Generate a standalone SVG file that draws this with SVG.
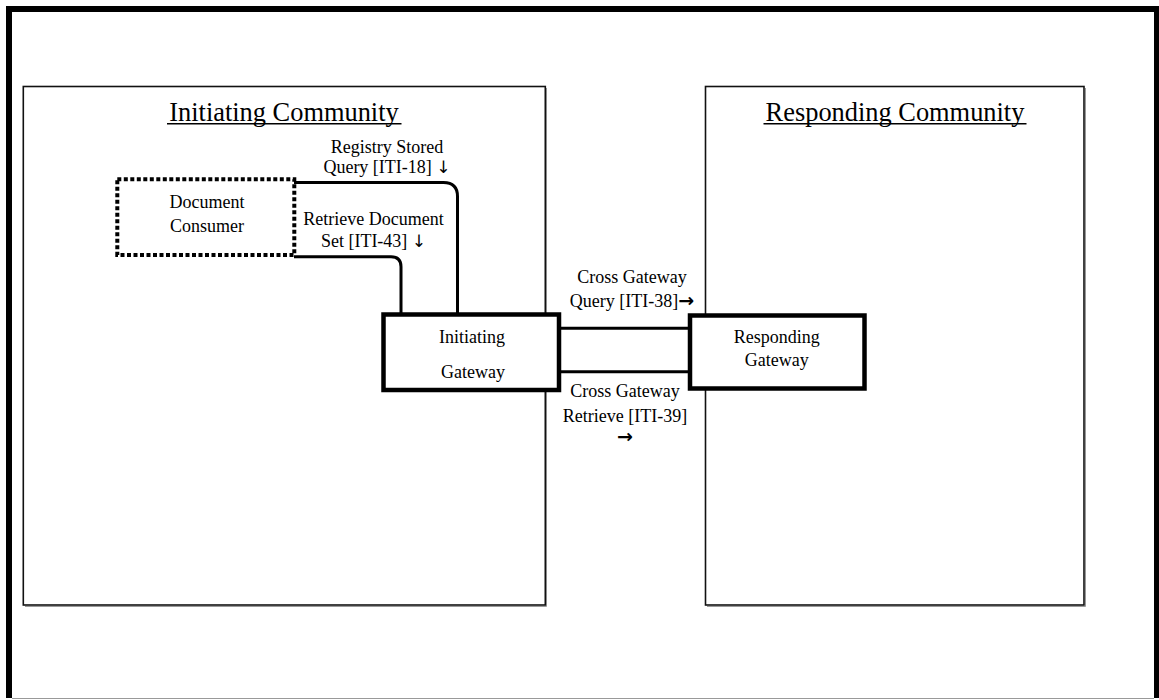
<svg xmlns="http://www.w3.org/2000/svg" width="1159" height="700" viewBox="0 0 1159 700">
<style>
  text { font-family: "Liberation Serif", "Times New Roman", serif; fill: #000; }
  .title { font-size: 26.4px; text-anchor: middle; }
  .uline { stroke: #000; stroke-width: 1.5; }
  .lbl { font-size: 18px; text-anchor: middle; }
  .arr { font-family: "DejaVu Sans", sans-serif; font-size: 19px; font-weight: bold; }
  .darr { font-family: "DejaVu Sans", sans-serif; font-size: 17px; }
  .community { fill: none; stroke: #111; stroke-width: 1.6; }
  .shadow { fill: none; stroke: #999; stroke-width: 1; }
  .gw { fill: #fff; stroke: #000; stroke-width: 4.5; }
  .conn { fill: none; stroke: #000; stroke-width: 3; }
</style>
<rect x="0" y="0" width="1159" height="700" fill="#fff"/>
<g id="frame">
  <path d="M9,698 L9,9 L1157,9 L1157,698" fill="none" stroke="#000" stroke-width="6"/>
  <line x1="12" y1="698.5" x2="1154" y2="698.5" stroke="#999" stroke-width="1.2"/>
</g>
<g id="initiating-community">
  <path class="shadow" d="M25,606.5 L546.5,606.5 L546.5,88" />
  <rect class="community" x="23.3" y="86.5" width="522" height="518.5"/>
  <text class="title" x="284" y="121">Initiating Community</text>
  <line class="uline" x1="167" y1="123.8" x2="401.5" y2="123.8"/>
</g>
<g id="responding-community">
  <path class="shadow" d="M707,606.5 L1085.5,606.5 L1085.5,88" />
  <rect class="community" x="705.5" y="86.5" width="378.5" height="518.5"/>
  <text class="title" x="895" y="121">Responding Community</text>
  <line class="uline" x1="763.5" y1="123.8" x2="1026.5" y2="123.8"/>
</g>
<g id="connectors">
  <path class="conn" d="M294,182.5 L443.5,182.5 Q457.5,182.5 457.5,196.5 L457.5,314"/>
  <path class="conn" d="M294,256.7 L391,256.7 Q401,256.7 401,266.7 L401,314"/>
  <line class="conn" x1="561" y1="328.3" x2="688" y2="328.3"/>
  <line class="conn" x1="561" y1="371.7" x2="688" y2="371.7"/>
  <text class="lbl" x="387" y="153.3">Registry Stored</text>
  <text class="lbl" x="387" y="173.3">Query [ITI-18] <tspan class="darr">↓</tspan></text>
  <text class="lbl" x="373.5" y="225">Retrieve Document</text>
  <text class="lbl" x="373.5" y="246.7">Set [ITI-43] <tspan class="darr">↓</tspan></text>
  <text class="lbl" x="632" y="283.3">Cross Gateway</text>
  <text class="lbl" x="632" y="306.7">Query [ITI-38]<tspan class="arr">→</tspan></text>
  <text class="lbl" x="625" y="397.3">Cross Gateway</text>
  <text class="lbl" x="625" y="422.3">Retrieve [ITI-39]</text>
  <text class="lbl arr" x="625" y="442.5">→</text>
</g>
<g id="document-consumer">
  <rect x="117.3" y="179.3" width="177" height="75.7" fill="none" stroke="#000" stroke-width="4" stroke-dasharray="4 2.5"/>
  <text class="lbl" x="207" y="208.3">Document</text>
  <text class="lbl" x="207" y="231.7">Consumer</text>
</g>
<g id="initiating-gateway">
  <rect class="gw" x="383.5" y="314.5" width="175.5" height="75.5"/>
  <text class="lbl" x="472" y="343.3">Initiating</text>
  <text class="lbl" x="473" y="378.3">Gateway</text>
</g>
<g id="responding-gateway">
  <rect class="gw" x="690" y="315.5" width="174.5" height="73"/>
  <text class="lbl" x="776.7" y="343.3">Responding</text>
  <text class="lbl" x="776.7" y="366">Gateway</text>
</g>
</svg>
